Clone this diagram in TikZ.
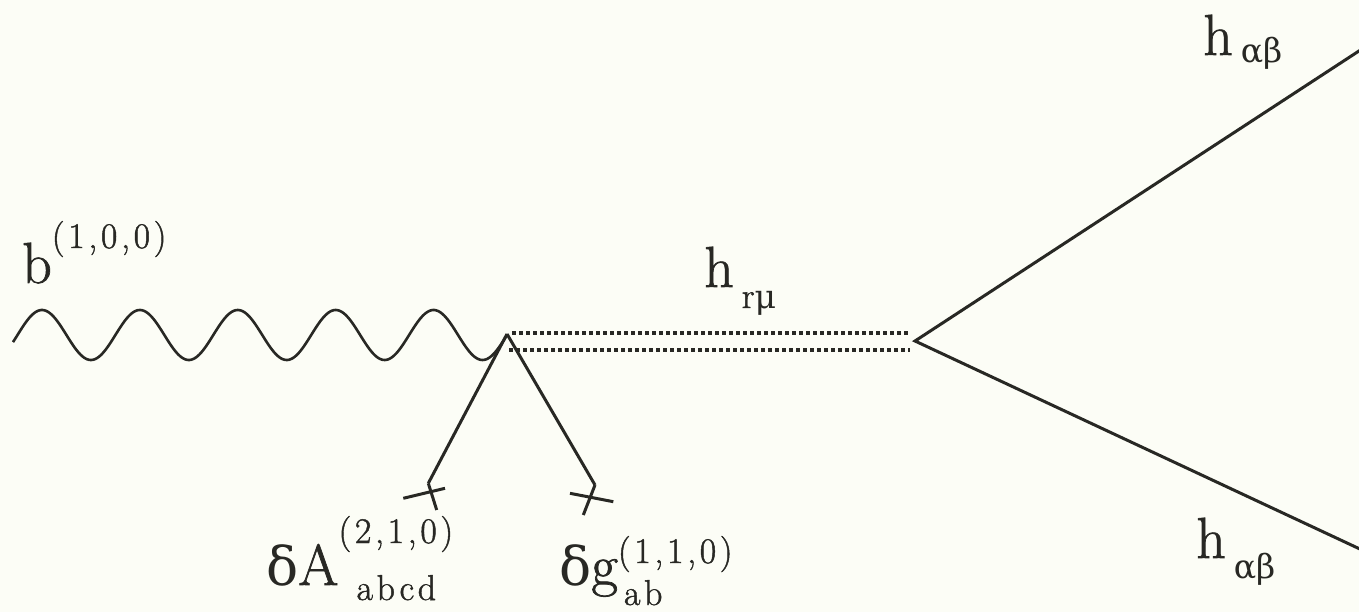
\documentclass[tikz,border=0pt]{standalone}
\usepackage{fontspec}
\setmainfont{Latin Modern Roman}[FakeBold=1.2]
\newfontfamily\grk{DejaVu Serif}[Scale=0.92]
\usetikzlibrary{calc}
\definecolor{ink}{RGB}{40,40,36}
\definecolor{paper}{RGB}{252,253,246}
\newcommand\Scr[1]{{\fontsize{36}{36}\selectfont\addfontfeatures{LetterSpace=10} #1}}
\newcommand\Up[2]{\rlap{\raisebox{#1}{\Scr{#2}}}}
\newcommand\Dn[3]{\rlap{\hspace{#1}\raisebox{#2}{\Scr{#3}}}}
\begin{document}
\begin{tikzpicture}[x=1pt,y=-1pt,
  lbl/.style={anchor=base west, inner sep=0pt, text=ink, font=\fontsize{58}{60}\selectfont},
  leg/.style={draw=ink, line width=3pt},
  wavy/.style={draw=ink, line width=2.6pt},
  dotline/.style={draw=ink, line width=3.2pt, dash pattern=on 4pt off 3pt}]
\fill[paper] (0,0) rectangle (1359,612);
\useasboundingbox (0,0) rectangle (1359,612);
% vertices
\coordinate (v1) at (507,334);
\coordinate (v2) at (915,341);
\coordinate (t1) at (1362,49);
\coordinate (t2) at (1362,550);
\coordinate (ca) at (431,493);
\coordinate (cg) at (591,497);
% wave
\draw[wavy] plot[domain=13:507,samples=300,smooth] (\x,{335-25*sin(3.6772*(\x-17.5))});
% double dotted line
\draw[dotline] ($(v1)+(5,-1)$) -- ($(v2)+(-5,-8)$);
\draw[dotline] ($(v1)+(2,16)$) -- ($(v2)+(-5,9)$);
% outgoing lines
\draw[leg] (t1) -- (v2) -- (t2);
% legs with crosses
\draw[leg] (v1) -- ($(ca)+(-2.7,-9.7)$);
\draw[leg] ($(ca)+(-27.7,5.3)$) -- ($(ca)+(14,-4.7)$);
\draw[leg] ($(ca)+(-2.7,-9.7)$) -- ($(ca)+(5.7,17)$);
\draw[leg] (v1) -- ($(cg)+(4,-12)$);
\draw[leg] ($(cg)+(-21,-3.7)$) -- ($(cg)+(22.3,4.7)$);
\draw[leg] ($(cg)+(4,-12)$) -- ($(cg)+(-7.7,18)$);
% labels
\node[lbl] (lb) at (22,283) {b\Up{35pt}{(1,0,0)}};
\node[lbl] (lh) at (704,287) {h\Dn{8pt}{-21pt}{r{\grk μ}}};
\node[lbl] (lt) at (1203,55) {h\Dn{8pt}{-8pt}{\grk αβ}};
\node[lbl] (lu) at (1196,558) {h\Dn{8pt}{-20pt}{\grk αβ}};
\node[lbl] (la) at (266,585) {{\grk δ}A\Up{42pt}{(2,1,0)}\Dn{18pt}{-15pt}{abcd}};
\node[lbl] (lg) at (559,585) {{\grk δ}g\Up{22pt}{(1,1,0)}\Dn{6pt}{-20pt}{ab}};
\end{tikzpicture}
\end{document}
